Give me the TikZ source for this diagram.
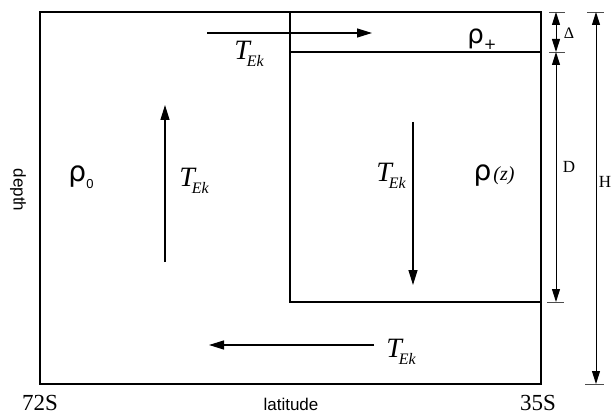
\documentclass[tikz,border=0pt]{standalone}
\usepackage{fontspec}
\setmainfont{Liberation Serif}
\newfontfamily\helv{Liberation Sans}
\newfontfamily\rhofont{DejaVu Sans}
\usetikzlibrary{arrows.meta}
\newcommand\myTek{{\fontsize{28}{30}\selectfont\itshape T}\kern-3pt\raisebox{-7pt}{\fontsize{16}{16}\selectfont\itshape Ek}}
\begin{document}
\begin{tikzpicture}[x=1pt,y=-1pt,
  box/.style={draw=black, line width=1.2pt},
  flow/.style={line width=1.3pt, -{Triangle[length=15pt,width=9pt]}},
  dim/.style={line width=1pt, -{Triangle[length=13pt,width=8pt]}},
  tick/.style={line width=0.9pt, draw=black!70},
  lbl/.style={inner sep=0pt, anchor=center}]
\useasboundingbox (0,0) rectangle (613,417);
% boxes
\draw[box] (40,12) rectangle (541,384);
\draw[box] (290,12) -- (290,302) -- (541,302);
\draw[box] (290,52) -- (541,52);
% flow coordinates
\coordinate (ta) at (207,33); \coordinate (tb) at (372,33);
\coordinate (ua) at (165,262); \coordinate (ub) at (165,105);
\coordinate (da) at (413,122); \coordinate (db) at (413,285);
\coordinate (ba) at (374,345); \coordinate (bb) at (209,345);
\draw[flow] (ta) -- (tb);
\draw[flow] (ua) -- (ub);
\draw[flow] (da) -- (db);
\draw[flow] (ba) -- (bb);
% labels
\node[lbl] (t1) at (249,54) {\myTek};
\node[lbl] (t2) at (194,181) {\myTek};
\node[lbl] (t3) at (391,176) {\myTek};
\node[lbl] (t4) at (401,352) {\myTek};
\node[lbl] (r0) at (81,177) {{\rhofont\fontsize{28}{30}\selectfont ρ}\raisebox{-7pt}{\helv\fontsize{13}{13}\selectfont 0}};
\node[lbl] (rz) at (494,176) {{\rhofont\fontsize{28}{30}\selectfont ρ}\kern2pt{\fontsize{20}{22}\selectfont\itshape (z)}};
\node[lbl] (rp) at (482,39) {{\rhofont\fontsize{26}{30}\selectfont ρ}\raisebox{-6pt}{\rhofont\fontsize{15}{15}\selectfont +}};
\node[lbl, rotate=-90] (depth) at (18,190) {\helv\fontsize{17}{18}\selectfont depth};
\node[lbl] (lat) at (291,404) {\helv\fontsize{17}{18}\selectfont latitude};
\node[lbl] (s72) at (40,403) {\fontsize{23}{24}\selectfont 72S};
\node[lbl] (s35) at (538,403) {\fontsize{23}{24}\selectfont 35S};
% dimension lines
\coordinate (d0) at (556,12); \coordinate (d1) at (556,52); \coordinate (d2) at (556,302);
\coordinate (dm1) at (556,32); \coordinate (dm2) at (556,177);
\draw[tick] (549,12) -- (565,12);
\draw[tick] (549,52) -- (565,52);
\draw[tick] (547,302) -- (564,302);
\draw[dim] (dm1) -- (d0);
\draw[dim] (dm1) -- (d1);
\draw[dim] (dm2) -- (d1);
\draw[dim] (dm2) -- (d2);
\coordinate (h0) at (596,12); \coordinate (h1) at (596,384); \coordinate (hm) at (596,198);
\draw[tick] (587,12) -- (604,12);
\draw[tick] (585,384) -- (604,384);
\draw[dim] (hm) -- (h0);
\draw[dim] (hm) -- (h1);
\node[lbl] (delta) at (569,33) {\fontsize{16}{18}\selectfont Δ};
\node[lbl] (dl) at (569,167) {\fontsize{17}{18}\selectfont D};
\node[lbl] (hl) at (605,182) {\fontsize{17}{18}\selectfont H};
\end{tikzpicture}
\end{document}
